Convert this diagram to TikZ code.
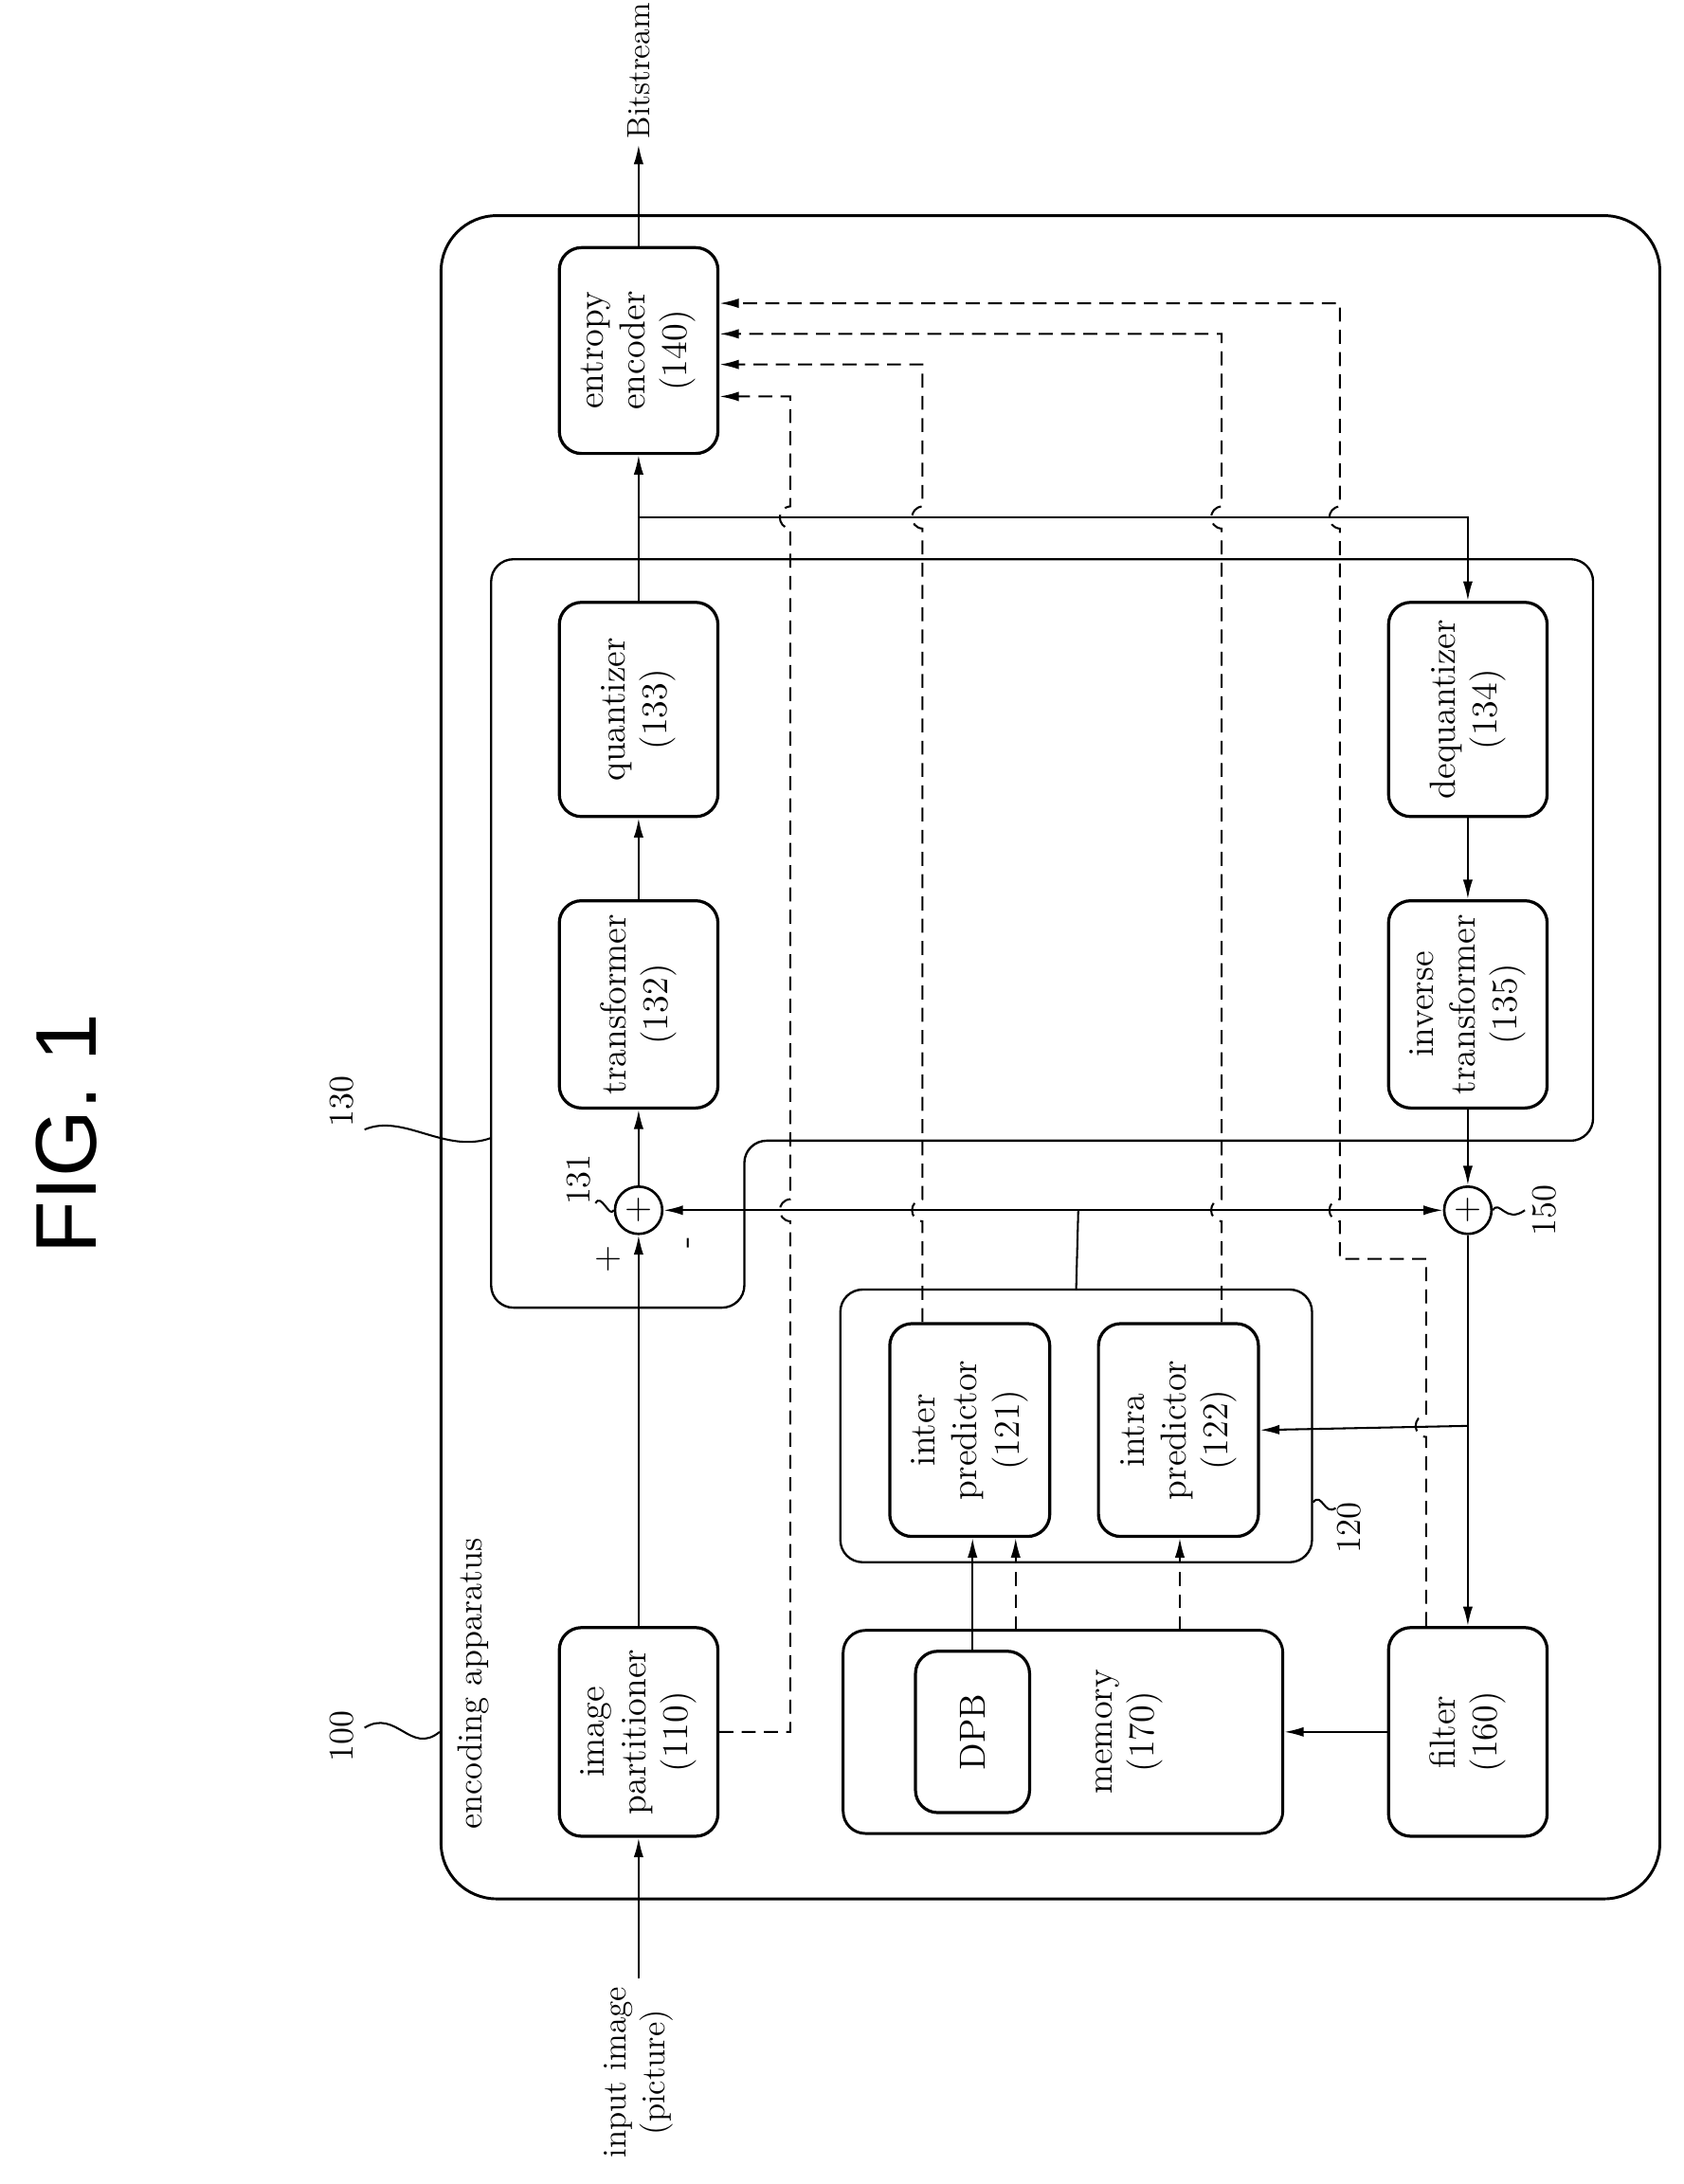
\documentclass[tikz,border=0pt]{standalone}
\usepackage{fontspec}
\setsansfont{Liberation Sans}
\usetikzlibrary{arrows.meta,calc}
\begin{document}
\begin{tikzpicture}[x=0.5pt,y=-0.5pt,
 box/.style={draw,line width=1.1pt,rounded corners=8pt,rotate=90,align=center,inner sep=1pt,font=\fontsize{13}{15}\selectfont},
 grp/.style={draw,line width=0.8pt,rounded corners=8pt},
 lbl/.style={rotate=90,font=\fontsize{12.5}{14.5}\selectfont},
 ar/.style={-{Latex[length=7pt,width=3.5pt]},line width=0.7pt},
 dar/.style={-{Latex[length=7pt,width=3.5pt]},line width=0.7pt,dash pattern=on 5pt off 3pt},
 ln/.style={line width=0.7pt},
 sum/.style={circle,draw,line width=0.9pt,minimum size=17pt,inner sep=0pt,font=\fontsize{13}{13}\selectfont}]
\useasboundingbox (0,0) rectangle (1210,1570);
% title
\node[rotate=90,font=\sffamily\fontsize{31}{31}\selectfont] (fig) at (48,815) {FIG. 1};
% outer boxes
\node[draw,line width=1pt,rounded corners=20pt,minimum width=438pt,minimum height=605pt] (enc) at (755,760) {};
\node[lbl,anchor=west] (enclbl) at (340,1322) {encoding apparatus};
\draw[line width=0.8pt,rounded corners=8pt] (353,402) -- (1145,402) -- (1145,820) -- (535,820) -- (535,940) -- (353,940) -- cycle;
\node[grp,minimum width=169.5pt,minimum height=98pt] (g120) at (773.5,1025) {};
\node[grp,line width=1pt,minimum width=158pt,minimum height=73pt] (mem) at (764,1245) {};
% boxes
\node[box,minimum width=74pt,minimum height=57pt] (ent) at (459,252) {entropy\\encoder\\(140)};
\node[box,minimum width=77pt,minimum height=57pt] (q) at (459,510) {quantizer\\(133)};
\node[box,minimum width=74.5pt,minimum height=57pt] (t) at (459,722) {transformer\\(132)};
\node[box,minimum width=75pt,minimum height=57pt] (p) at (459,1245) {image\\partitioner\\(110)};
\node[box,minimum width=77pt,minimum height=57pt] (dq) at (1055,510) {dequantizer\\(134)};
\node[box,minimum width=74.5pt,minimum height=57pt] (it) at (1055,722) {inverse\\transformer\\(135)};
\node[box,minimum width=75pt,minimum height=57pt] (f) at (1055,1245) {filter\\(160)};
\node[box,minimum width=58pt,minimum height=41pt] (dpb) at (699,1245) {DPB};
\node[rotate=90,align=center,font=\fontsize{13}{15}\selectfont] (memt) at (812,1245) {memory\\(170)};
\node[box,minimum width=76.5pt,minimum height=57.5pt] (inter) at (697,1028) {inter\\predictor\\(121)};
\node[box,minimum width=76.5pt,minimum height=57.5pt] (intra) at (847,1028) {intra\\predictor\\(122)};
\node[sum] (s1) at (459,870) {+};
\node[sum] (s2) at (1055,870) {+};
% labels
\node[lbl] (l100) at (246,1248) {100};
\draw[ln] (262,1242) .. controls (285,1228) and (295,1262) .. (enc.west |- {(0,1245)});
\node[lbl] (l130) at (246,792) {130};
\draw[ln] (262,812) .. controls (290,800) and (320,830) .. (353,818);
\node[lbl] (l131) at (416,848) {131};
\draw[ln] (428,865) .. controls (432,857) and (438,876) .. (s1.west);
\node[lbl] (l150) at (1110,870) {150};
\draw[ln] (s2.east) .. controls (1078,862) and (1082,880) .. (1096,870);
\node[lbl] (l120) at (970,1098) {120};
\draw[ln] (g120.east |- {(0,1080)}) .. controls (950,1072) and (952,1090) .. (960,1084);
\node[font=\fontsize{13}{13}\selectfont] (plus) at (437,905) {+};
\node[rotate=90,font=\fontsize{13}{13}\selectfont] (minus) at (497,893) {-};
% inputs/outputs
\coordinate (in) at (459,1422);
\node[lbl,align=center,anchor=east,inner sep=1pt,font=\fontsize{12}{14}\selectfont] (inlbl) at (459,1426) {input image\\(picture)};
\draw[ar] (in) -- (p.west);
\coordinate (bs) at (459,104);
\node[rotate=90,anchor=west,inner sep=0pt,font=\fontsize{11.5}{14}\selectfont] (bslbl) at (459,100) {Bitstream};
\draw[ar] (ent.east) -- (bs);
% main forward path
\draw[ar] (p.east) -- (s1.south);
\draw[ar] (s1.north) -- (t.west);
\draw[ar] (t.east) -- (q.west);
\draw[ar] (q.east) -- (ent.west);
\coordinate (br) at (459,372);
\coordinate (brr) at (1055,372);
\draw[ar] (br) -- (brr) -- (dq.east);
\draw[ar] (dq.west) -- (it.east);
\draw[ar] (it.west) -- (s2.north);
\draw[ar] (s2.south) -- (f.east);
\coordinate (pj) at (1055,1025);
\draw[ar] (pj) -- (intra.south);
\draw[ar] (f.north) -- (mem.east);
% prediction line
\draw[{Latex[length=7pt,width=3.5pt]}-{Latex[length=7pt,width=3.5pt]},line width=0.7pt] (s1.east) -- (s2.west);
\coordinate (pc) at (775,870);
\draw[ln] (pc) -- (g120.north);
% memory to predictors
\draw[ar] (dpb.east) -- (dpb.east |- inter.west);
\draw[dar] (730,1172) -- (inter.west -| {(730,0)});
\draw[dar] (848,1172) -- (intra.west -| {(848,0)});
% dashed to entropy encoder with jumps
\newcommand{\jmp}[2]{-- (#1,#2+8) .. controls (#1-10,#2+7) and (#1-10,#2-7) .. (#1,#2-8)}
\draw[dar] (p.south) -- (568,1245) \jmp{568}{870} \jmp{568}{372} -- (568,285) -- (ent.south |- {(0,285)});
\draw[dar] (inter.east -| {(663,0)}) \jmp{663}{870} \jmp{663}{372} -- (663,262) -- (ent.south |- {(0,262)});
\draw[dar] (intra.east -| {(878,0)}) \jmp{878}{870} \jmp{878}{372} -- (878,240) -- (ent.south |- {(0,240)});
\draw[dar] (f.east -| {(1025,0)}) \jmp{1025}{1025} -- (1025,905) -- (963,905) \jmp{963}{870} \jmp{963}{372} -- (963,218) -- (ent.south |- {(0,218)});
\end{tikzpicture}
\end{document}
